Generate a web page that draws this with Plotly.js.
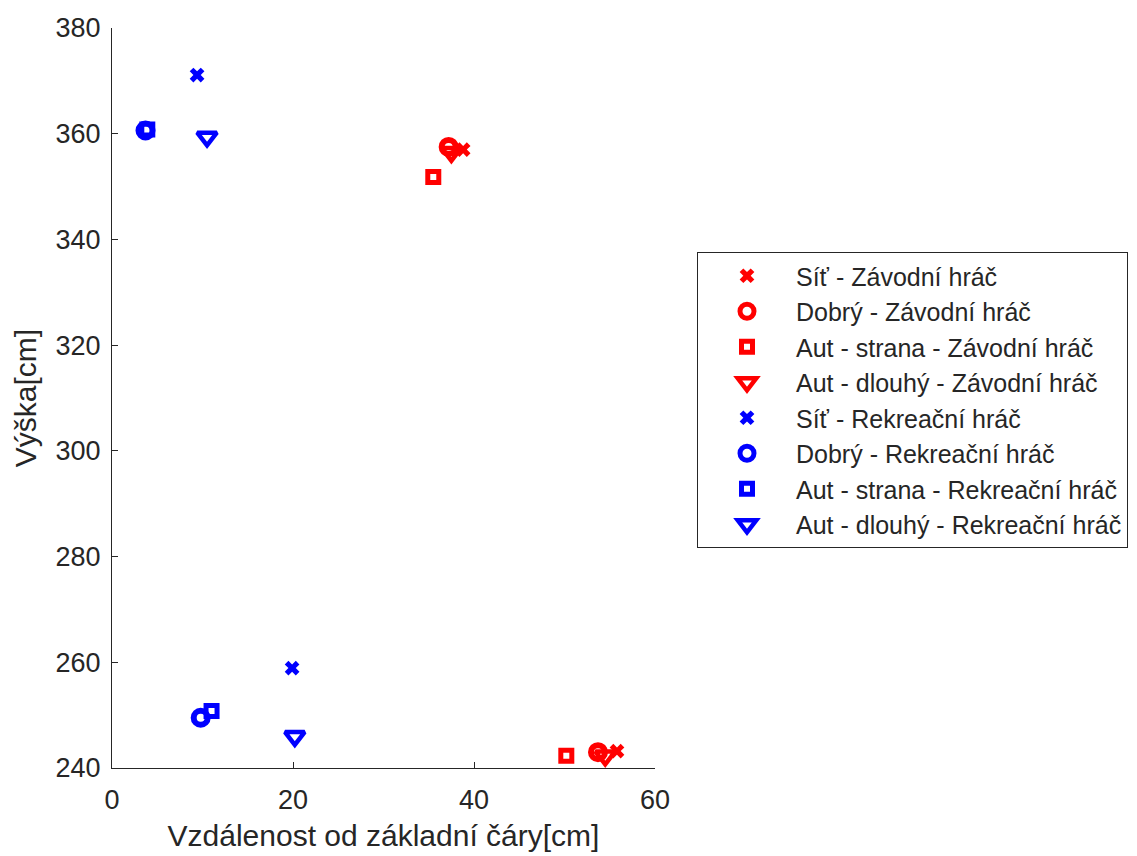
<!DOCTYPE html>
<html>
<head>
<meta charset="utf-8">
<script src="https://cdn.plot.ly/plotly-3.0.1.min.js"></script>
<style>
  html, body { margin: 0; padding: 0; background: #ffffff; }
  #chart { width: 1137px; height: 856px; }
</style>
</head>
<body>
<div id="chart"></div>
<script>
// Series labels (legend order)
const seriesNames = [
  'Síť - Závodní hráč',
  'Dobrý - Závodní hráč',
  'Aut - strana - Závodní hráč',
  'Aut - dlouhý - Závodní hráč',
  'Síť - Rekreační hráč',
  'Dobrý - Rekreační hráč',
  'Aut - strana - Rekreační hráč',
  'Aut - dlouhý - Rekreační hráč'
];

// Distance from the baseline [cm] and height [cm] per series
const sitZavodniX = [38.8, 55.8];
const sitZavodniY = [357.0, 243.2];
const dobryZavodniX = [37.2, 53.7];
const dobryZavodniY = [357.5, 243.0];
const stranaZavodniX = [35.5, 50.2];
const stranaZavodniY = [351.8, 242.3];
const dlouhyZavodniX = [37.5, 54.5];
const dlouhyZavodniY = [356.5, 242.3];

const sitRekreacniX = [9.4, 19.9];
const sitRekreacniY = [371.1, 258.9];
const dobryRekreacniX = [3.7, 9.8];
const dobryRekreacniY = [360.6, 249.5];
const stranaRekreacniX = [3.9, 11.0];
const stranaRekreacniY = [360.8, 250.8];
const dlouhyRekreacniX = [10.5, 20.2];
const dlouhyRekreacniY = [359.4, 246.0];

const xTicks = [0, 20, 40, 60];
const yTicks = [240, 260, 280, 300, 320, 340, 360, 380];

const RED = '#ff0000';
const BLUE = '#0000ff';
const AXIS = '#262626';

// Marker styles per shot type
const styles = {
  sit:    { symbol: 'x', size: 13, line: { width: 0 } },
  dobry:  { symbol: 'circle-open', size: 14, line: { width: 6 } },
  strana: { symbol: 'square-open', size: 11, line: { width: 5 } },
  dlouhy: { symbol: 'triangle-down-open', size: 17, line: { width: 4.5 } }
};

function makeTrace(name, xs, ys, kind, color) {
  const st = styles[kind];
  return {
    type: 'scatter',
    mode: 'markers',
    name: name,
    x: xs,
    y: ys,
    cliponaxis: false,
    marker: {
      symbol: st.symbol,
      size: st.size,
      color: color,
      line: { width: st.line.width, color: color }
    }
  };
}

const traces = [
  makeTrace(seriesNames[0], sitZavodniX, sitZavodniY, 'sit', RED),
  makeTrace(seriesNames[1], dobryZavodniX, dobryZavodniY, 'dobry', RED),
  makeTrace(seriesNames[2], stranaZavodniX, stranaZavodniY, 'strana', RED),
  makeTrace(seriesNames[3], dlouhyZavodniX, dlouhyZavodniY, 'dlouhy', RED),
  makeTrace(seriesNames[4], sitRekreacniX, sitRekreacniY, 'sit', BLUE),
  makeTrace(seriesNames[5], dobryRekreacniX, dobryRekreacniY, 'dobry', BLUE),
  makeTrace(seriesNames[6], stranaRekreacniX, stranaRekreacniY, 'strana', BLUE),
  makeTrace(seriesNames[7], dlouhyRekreacniX, dlouhyRekreacniY, 'dlouhy', BLUE)
];

const layout = {
  width: 1137,
  height: 856,
  paper_bgcolor: '#ffffff',
  plot_bgcolor: '#ffffff',
  font: { family: 'Liberation Sans, Arial, sans-serif', color: AXIS },
  margin: { l: 112, r: 482, t: 28, b: 88, autoexpand: false },
  showlegend: true,
  legend: {
    x: (697 - 112) / 543,
    xanchor: 'left',
    y: (768 - 252) / 740,
    yanchor: 'top',
    bgcolor: '#ffffff',
    bordercolor: AXIS,
    borderwidth: 1,
    font: { size: 25, color: AXIS },
    itemwidth: 88,
    itemsizing: 'trace',
    tracegroupgap: 0
  },
  xaxis: {
    range: [0, 60],
    tickmode: 'array',
    tickvals: xTicks,
    ticktext: xTicks.map(String),
    ticks: 'inside',
    ticklen: 6,
    tickwidth: 1,
    tickcolor: AXIS,
    ticklabelstandoff: 8,
    showline: true,
    linecolor: AXIS,
    linewidth: 1,
    mirror: false,
    showgrid: false,
    zeroline: false,
    tickfont: { size: 27, color: AXIS },
    title: { text: 'Vzdálenost od základní čáry[cm]', font: { size: 30, color: AXIS }, standoff: 10 }
  },
  yaxis: {
    range: [240, 380],
    tickmode: 'array',
    tickvals: yTicks,
    ticktext: yTicks.map(String),
    ticks: 'inside',
    ticklen: 6,
    tickwidth: 1,
    tickcolor: AXIS,
    ticklabelstandoff: 5,
    showline: true,
    linecolor: AXIS,
    linewidth: 1,
    mirror: false,
    showgrid: false,
    zeroline: false,
    tickfont: { size: 27, color: AXIS },
    title: { text: 'Výška[cm]', font: { size: 30, color: AXIS }, standoff: 10 }
  }
};

Plotly.newPlot('chart', traces, layout, { staticPlot: true, displayModeBar: false });
</script>
</body>
</html>
